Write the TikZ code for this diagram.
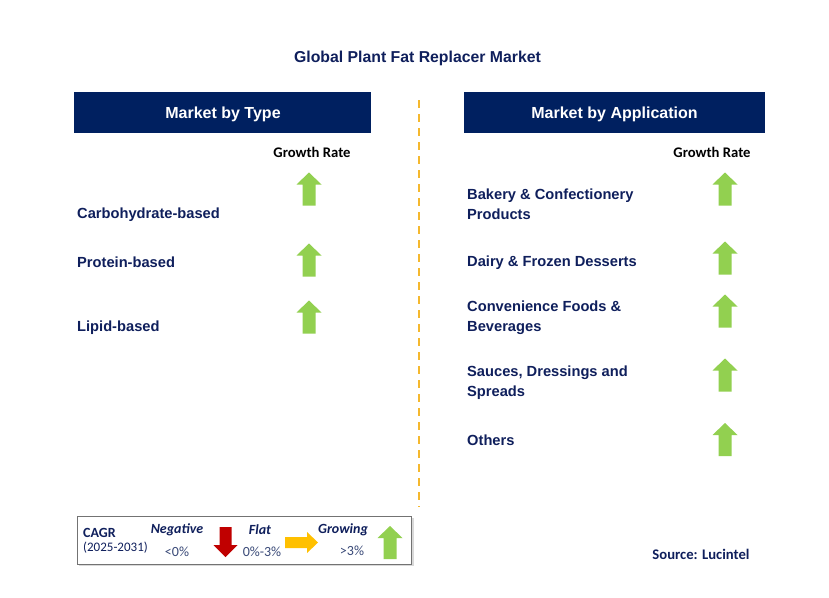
\documentclass[tikz,border=0pt]{standalone}
\usepackage{fontspec}
\setmainfont{Liberation Sans}
\newfontfamily\calfont{Carlito}
\definecolor{navy}{HTML}{002060}
\definecolor{labnavy}{HTML}{0F1F5C}
\definecolor{garrow}{HTML}{92D050}
\definecolor{rarrow}{HTML}{C00000}
\definecolor{yarrow}{HTML}{FFC000}
\definecolor{dashor}{HTML}{F5B82E}
\definecolor{legtext}{HTML}{3A4A78}
\begin{document}
\begin{tikzpicture}[x=1pt,y=-1pt,
  hdrbox/.style={fill=navy,minimum height=41pt,inner sep=0pt},
  hdrtxt/.style={text=white,font=\fontsize{16}{18}\selectfont\bfseries,inner sep=0pt},
  lab/.style={anchor=west,text=labnavy,font=\fontsize{14.67}{20}\selectfont\bfseries,align=left,inner sep=0pt},
  gr/.style={font=\calfont\fontsize{14.67}{16}\selectfont\bfseries,text=black,inner sep=0pt},
  legb/.style={font=\calfont\fontsize{14}{16}\selectfont\bfseries\itshape,text=labnavy,inner sep=0pt},
  legn/.style={font=\calfont\fontsize{14}{16}\selectfont,text=legtext,inner sep=0pt},
  uparr/.pic={\fill[garrow] (0,-16.5) -- (12.5,-4.5) -- (6.5,-4.5) -- (6.5,16.5) -- (-6.5,16.5) -- (-6.5,-4.5) -- (-12.5,-4.5) -- cycle;},
  downarr/.pic={\fill[rarrow] (0,15) -- (12,3) -- (6,3) -- (6,-15) -- (-6,-15) -- (-6,3) -- (-12,3) -- cycle;},
  rightarr/.pic={\fill[yarrow] (16.5,0) -- (5.5,-10.5) -- (5.5,-5.5) -- (-16.5,-5.5) -- (-16.5,5.5) -- (5.5,5.5) -- (5.5,10.5) -- cycle;}
]
\path[use as bounding box,fill=white] (0,0) rectangle (829,597);

% title
\node[text=labnavy,font=\fontsize{15.8}{18}\selectfont\bfseries,inner sep=0pt] (title) at (417.5,58.5) {Global Plant Fat Replacer Market};

% headers
\node[hdrbox,minimum width=297pt] (htype) at (222.5,112.5) {};
\node[hdrtxt] (htypet) at (223,114) {Market by Type};
\node[hdrbox,minimum width=301pt] (happ) at (614.5,112.5) {};
\node[hdrtxt] (happt) at (614.5,114) {Market by Application};

% divider
\coordinate (dtop) at (419,100);
\coordinate (dbot) at (419,507);
\draw[dashor,line width=1.6pt,dash pattern=on 8pt off 6pt] (dtop) -- (dbot);

% left column
\node[gr] (grl) at (312,152) {Growth Rate};
\node[lab] (l1) at (77,214.5) {Carbohydrate-based};
\node[lab] (l2) at (77,262.5) {Protein-based};
\node[lab] (l3) at (77,327.5) {Lipid-based};
\pic at (309,189) {uparr};
\pic at (309,260) {uparr};
\pic at (309,317) {uparr};

% right column
\node[gr] (grr) at (712,152) {Growth Rate};
\node[lab] (r1) at (467,204.5) {Bakery \& Confectionery\\Products};
\node[lab] (r2) at (467,262.5) {Dairy \& Frozen Desserts};
\node[lab] (r3) at (467,317.5) {Convenience Foods \&\\Beverages};
\node[lab] (r4) at (467,382.5) {Sauces, Dressings and\\Spreads};
\node[lab] (r5) at (467,440.5) {Others};
\pic at (725,189) {uparr};
\pic at (725,258) {uparr};
\pic at (725,311) {uparr};
\pic at (725,375) {uparr};
\pic at (725,439.5) {uparr};

% legend
\fill[black!15] (79,518) rectangle (414,566);
\node[draw=black!55,fill=white,line width=0.8pt,minimum width=334pt,minimum height=48pt,inner sep=0pt] (legend) at (244.5,540) {};
\node[anchor=west,font=\calfont\fontsize{14}{16}\selectfont\bfseries,text=labnavy,inner sep=0pt] (cagr) at (83,533) {CAGR};
\node[anchor=west,font=\calfont\fontsize{13}{16}\selectfont,text=labnavy,inner sep=0pt] (yrs) at (83,548) {(2025-2031)};
\node[legb] (neg) at (177,530) {Negative};
\node[legn] (negv) at (177,552) {<0\%};
\node[legb] (flat) at (260,530) {Flat};
\node[legn] (flatv) at (262,552) {0\%-3\%};
\node[legb] (grow) at (343,530) {Growing};
\node[legn] (growv) at (352,551) {>3\%};
\pic at (225.5,542) {downarr};
\pic at (301.5,542.5) {rightarr};
\pic at (390,542.5) {uparr};

% source
\node[font=\calfont\fontsize{14.67}{16}\selectfont\bfseries,text=labnavy,inner sep=0pt] (src) at (701,554) {Source: Lucintel};
\end{tikzpicture}
\end{document}
